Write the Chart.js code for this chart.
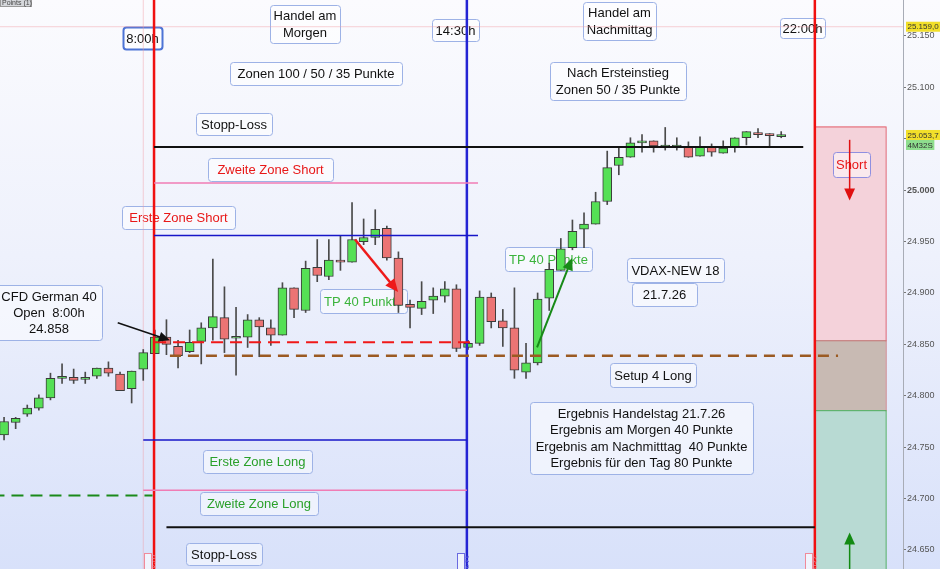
<!DOCTYPE html>
<html>
<head>
<meta charset="utf-8">
<script src="https://cdn.jsdelivr.net/npm/chart.js@4.4.1/dist/chart.umd.min.js"></script>
<style>
  html, body { margin: 0; padding: 0; background: #fff; }
  #wrap { width: 940px; height: 569px; }
</style>
</head>
<body>
<div id="wrap"><canvas id="chart" width="940" height="569"></canvas></div>
<script>
// candles, one per 15 min, index 0 = first candle on screen
const opens = [24762,24774,24782,24788,24798,24817,24818,24816,24819,24827,
  24821,24807,24826,24841,24857,24848,24843,24853,24866,24876,
  24856,24857,24874,24866,24859,24905,24883,24925,24916,24931,
  24930,24950,24954,24963,24934,24889,24885,24893,24897,24904,
  24847,24851,24896,24873,24866,24823,24832,24895,24922,24944,
  24962,24967,24989,25024,25032,25046,25048,25042,25042,25042,
  25033,25042,25036,25042,25051,25056,25055,25052];
const highs = [24779,24779,24791,24801,24822,24831,24826,24823,24827,24833,
  24823,24824,24845,24864,24874,24854,24864,24871,24933,24906,
  24886,24879,24876,24874,24910,24905,24931,24952,24952,24956,
  24988,24972,24981,24965,24940,24893,24911,24905,24911,24908,
  24854,24902,24900,24884,24905,24851,24900,24929,24953,24971,
  24978,24998,25038,25041,25051,25054,25048,25061,25051,25047,
  25052,25045,25048,25051,25057,25060,25055,25057];
const lows = [24757,24768,24780,24786,24796,24812,24812,24812,24817,24819,
  24805,24793,24815,24841,24840,24827,24842,24831,24854,24842,
  24820,24847,24838,24849,24859,24876,24881,24911,24913,24922,
  24930,24947,24947,24932,24881,24866,24879,24880,24891,24843,
  24845,24849,24866,24848,24817,24817,24830,24883,24922,24942,
  24944,24967,24986,25015,25032,25037,25037,25039,25039,25032,
  25033,25033,25036,25037,25044,25051,25043,25051];
const closes = [24775,24778,24788,24798,24817,24819,24815,24817,24827,24822,
  24805,24824,24842,24857,24850,24839,24852,24866,24877,24855,
  24857,24874,24867,24859,24905,24884,24924,24917,24932,24930,
  24952,24954,24962,24934,24888,24886,24892,24897,24904,24846,
  24851,24896,24872,24866,24825,24832,24894,24923,24943,24960,
  24967,24989,25022,25032,25046,25047,25043,25043,25043,25032,
  25042,25037,25041,25051,25057,25054,25053,25054];

// horizontal levels: stop short, 2nd short, 1st short, open, setup, 1st long, 2nd long, old level, stop long, day high
const levelPrices = [25042, 25007, 24956, 24852, 24839, 24757, 24708, 24703, 24672, 25159];
const levelFrom   = [12.93, 12.93, 12.93, 12.93, 14.3, 12.0, 12.0, -1, 14.0, -1];
const levelTo     = [68.9, 40.86, 40.86, 40.6, 71.9, 39.9, 39.9, 12.8, 69.9, 79];

// vertical session marks (candle index): 7:45, 8:00, 14:30, 22:00
const sessionMarks = [12.0, 12.93, 39.9, 69.9];

// right side target boxes [fromIdx, toIdx, top, bottom]
const shortBox = [69.9, 76.0, 25062, 24854];
const setupBox = [69.9, 76.0, 24854, 24786];
const longBox = [69.9, 76.0, 24786, 24600];

// arrows [fromIdx, fromPrice, toIdx, toPrice]
const arrowOpen = [9.8, 24871, 14.3, 24854];
const arrowShort = [30.26, 24952, 33.97, 24901];
const arrowLong = [45.95, 24847, 48.97, 24934];
const arrowBoxShort = [72.9, 25049, 72.9, 24990];
const arrowBoxLong = [72.9, 24620, 72.9, 24667];

const yTicks = [24650, 24700, 24750, 24800, 24850, 24900, 24950, 25000, 25050, 25100, 25150];
const lastPrice = 25053.7;

const FONT = '"Liberation Sans", Arial, sans-serif';
Chart.defaults.font.family = FONT;

const levelStyles = [
  { color: '#111', width: 2, dash: [] },
  { color: '#f07cb4', width: 1.5, dash: [] },
  { color: '#1616c8', width: 1.5, dash: [] },
  { color: '#f01818', width: 2, dash: [12, 7] },
  { color: '#9b5a22', width: 2.5, dash: [11, 7] },
  { color: '#1616c8', width: 1.5, dash: [] },
  { color: '#f07cb4', width: 1.5, dash: [] },
  { color: '#1a8a1a', width: 2, dash: [12, 7] },
  { color: '#111', width: 2, dash: [] },
  { color: 'rgba(240,150,160,0.45)', width: 1, dash: [] }
];
const markStyles = [
  { color: 'rgba(240,150,160,0.45)', width: 1 },
  { color: '#f01010', width: 2.5 },
  { color: '#2424d4', width: 2.5 },
  { color: '#f01010', width: 2.5 }
];

const datasets = [];
levelPrices.forEach((p, i) => {
  datasets.push({
    type: 'line',
    data: [{ x: levelFrom[i], y: p }, { x: levelTo[i], y: p }],
    borderColor: levelStyles[i].color,
    borderWidth: levelStyles[i].width,
    borderDash: levelStyles[i].dash,
    pointRadius: 0,
    order: i === 9 ? 5 : 0
  });
});
sessionMarks.forEach((m, i) => {
  datasets.push({
    type: 'line',
    data: [{ x: m, y: 24500 }, { x: m, y: 25300 }],
    borderColor: markStyles[i].color,
    borderWidth: markStyles[i].width,
    pointRadius: 0,
    order: i === 0 ? 5 : 0
  });
});
datasets.push({
  type: 'bar',
  data: opens.map((o, i) => ({ x: i, y: [lows[i], highs[i]] })),
  backgroundColor: '#4a4a4a',
  borderWidth: 0,
  barThickness: 1,
  grouped: false,
  order: 3
});
datasets.push({
  type: 'bar',
  data: opens.map((o, i) => ({ x: i, y: [o, closes[i]] })),
  backgroundColor: opens.map((o, i) => closes[i] >= o ? '#55e055' : '#ec7474'),
  borderColor: '#3a3a3a',
  borderWidth: 1,
  borderSkipped: false,
  barThickness: 9,
  minBarLength: 2,
  grouped: false,
  order: 2
});

function rrect(ctx, x1, y1, x2, y2, r) {
  ctx.beginPath();
  ctx.moveTo(x1 + r, y1);
  ctx.lineTo(x2 - r, y1); ctx.quadraticCurveTo(x2, y1, x2, y1 + r);
  ctx.lineTo(x2, y2 - r); ctx.quadraticCurveTo(x2, y2, x2 - r, y2);
  ctx.lineTo(x1 + r, y2); ctx.quadraticCurveTo(x1, y2, x1, y2 - r);
  ctx.lineTo(x1, y1 + r); ctx.quadraticCurveTo(x1, y1, x1 + r, y1);
  ctx.closePath();
}

function box(ctx, x1, y1, x2, y2, lines, color, border, bw) {
  ctx.save();
  rrect(ctx, x1 + 0.5, y1 + 0.5, x2 + 0.5, y2 + 0.5, 3);
  ctx.fillStyle = 'rgba(255,255,255,0.5)';
  ctx.fill();
  ctx.strokeStyle = border || '#9db2e6';
  ctx.lineWidth = bw || 1;
  ctx.stroke();
  ctx.fillStyle = color || '#111';
  ctx.font = '13px ' + FONT;
  ctx.textAlign = 'center';
  ctx.textBaseline = 'middle';
  const cx = (x1 + x2) / 2;
  const cy = (y1 + y2) / 2;
  const lh = 16.3;
  lines.forEach((t, k) => {
    ctx.fillText(t, cx, cy + (k - (lines.length - 1) / 2) * lh + 1);
  });
  ctx.restore();
}

function arrow(ctx, x1, y1, x2, y2, color, w, head) {
  const a = Math.atan2(y2 - y1, x2 - x1);
  ctx.save();
  ctx.strokeStyle = color; ctx.fillStyle = color; ctx.lineWidth = w;
  ctx.beginPath();
  ctx.moveTo(x1, y1);
  ctx.lineTo(x2 - Math.cos(a) * head * 0.6, y2 - Math.sin(a) * head * 0.6);
  ctx.stroke();
  ctx.beginPath();
  ctx.moveTo(x2, y2);
  ctx.lineTo(x2 - head * Math.cos(a) + head * 0.45 * Math.sin(a), y2 - head * Math.sin(a) - head * 0.45 * Math.cos(a));
  ctx.lineTo(x2 - head * Math.cos(a) - head * 0.45 * Math.sin(a), y2 - head * Math.sin(a) + head * 0.45 * Math.cos(a));
  ctx.closePath();
  ctx.fill();
  ctx.restore();
}

const deco = {
  id: 'deco',
  beforeDraw(chart) {
    const ctx = chart.ctx;
    const g = ctx.createLinearGradient(0, 0, 0, chart.height);
    g.addColorStop(0, '#fbfbfe');
    g.addColorStop(0.45, '#eef1fc');
    g.addColorStop(1, '#d8e1fa');
    ctx.save();
    ctx.fillStyle = g;
    ctx.fillRect(0, 0, chart.width, chart.height);
    ctx.restore();
  },
  beforeDatasetsDraw(chart) {
    const ctx = chart.ctx;
    const xs = chart.scales.x, ys = chart.scales.y;
    const area = chart.chartArea;
    ctx.save();
    ctx.beginPath();
    ctx.rect(area.left, area.top, area.right - area.left, area.bottom - area.top);
    ctx.clip();
    [[shortBox, '#f4d2da', '#e2606e'], [setupBox, '#c8bab3', '#c87a7a'], [longBox, '#b8dad3', '#4cae5c']].forEach(([b, fill, line]) => {
      const x1 = xs.getPixelForValue(b[0]), x2 = xs.getPixelForValue(b[1]);
      const y1 = ys.getPixelForValue(b[2]), y2 = ys.getPixelForValue(b[3]);
      ctx.fillStyle = fill;
      ctx.fillRect(x1, y1, x2 - x1, y2 - y1);
      ctx.strokeStyle = line;
      ctx.lineWidth = 1;
      ctx.strokeRect(x1 + 0.5, y1 + 0.5, x2 - x1, y2 - y1);
    });
    ctx.restore();

    box(ctx, 270, 5, 340, 43, ['Handel am', 'Morgen']);
    box(ctx, 432, 19, 479, 41, ['14:30h']);
    box(ctx, 583, 2, 656, 40, ['Handel am', 'Nachmittag']);
    box(ctx, 780, 18, 825, 38, ['22:00h']);
    box(ctx, 230, 62, 402, 85, ['Zonen 100 / 50 / 35 Punkte']);
    box(ctx, 550, 62, 686, 100, ['Nach Ersteinstieg', 'Zonen 50 / 35 Punkte']);
    box(ctx, 196, 113, 272, 135, ['Stopp-Loss']);
    box(ctx, 208, 158, 333, 181, ['Zweite Zone Short'], '#e81818');
    box(ctx, 122, 206, 235, 229, ['Erste Zone Short'], '#e81818');
    box(ctx, -4, 285, 102, 340, ['CFD German 40', 'Open  8:00h', '24.858']);
    box(ctx, 320, 289, 407, 313, ['TP 40 Punkte'], '#3cb43c');
    box(ctx, 505, 247, 592, 271, ['TP 40 Punkte'], '#3cb43c');
    box(ctx, 627, 258, 724, 282, ['VDAX-NEW 18']);
    box(ctx, 632, 283, 697, 306, ['21.7.26']);
    box(ctx, 610, 363, 696, 387, ['Setup 4 Long']);
    box(ctx, 530, 402, 753, 474, ['Ergebnis Handelstag 21.7.26', 'Ergebnis am Morgen 40 Punkte',
      'Ergebnis am Nachmitttag  40 Punkte', 'Ergebnis für den Tag 80 Punkte']);
    box(ctx, 203, 450, 312, 473, ['Erste Zone Long'], '#2aa02a');
    box(ctx, 200, 492, 318, 515, ['Zweite Zone Long'], '#2aa02a');
    box(ctx, 186, 543, 262, 565, ['Stopp-Loss']);
    box(ctx, 833, 152, 870, 177, ['Short'], '#e81818', '#8f8fe0');
    box(ctx, 123, 27, 162, 49, ['8:00h'], '#111', '#4d74d6', 2);
  },
  afterDatasetsDraw(chart) {
    const ctx = chart.ctx;
    const xs = chart.scales.x, ys = chart.scales.y;
    const P = (a) => [xs.getPixelForValue(a[0]), ys.getPixelForValue(a[1]), xs.getPixelForValue(a[2]), ys.getPixelForValue(a[3])];
    arrow(ctx, ...P(arrowOpen), '#111', 1.5, 11);
    arrow(ctx, ...P(arrowShort), '#ee1a1a', 2.5, 13);
    arrow(ctx, ...P(arrowLong), '#178a17', 2, 12);
    arrow(ctx, ...P(arrowBoxShort), '#e01010', 1.5, 12);
    arrow(ctx, ...P(arrowBoxLong), '#128a12', 1.5, 12);

    // small rotated time tags at the bottom
    [[148, '07:45', '#f08a9a'], [461, '14:30', '#6a6ae0'], [809, '22:00', '#f08a9a']].forEach(([x, t, c]) => {
      ctx.save();
      ctx.fillStyle = 'rgba(255,255,255,0.6)';
      ctx.fillRect(x - 4, 553, 8, 16);
      ctx.strokeStyle = c; ctx.lineWidth = 1;
      ctx.strokeRect(x - 3.5, 553.5, 7, 16);
      ctx.translate(x + 3, 555);
      ctx.rotate(Math.PI / 2);
      ctx.fillStyle = c;
      ctx.font = '7px ' + FONT;
      ctx.textBaseline = 'alphabetic';
      ctx.fillText(t, 0, 0);
      ctx.restore();
    });

    // "Points" tag top left
    ctx.save();
    ctx.fillStyle = '#d6d8dc';
    ctx.fillRect(0, 0, 32, 7);
    ctx.strokeStyle = '#9a9a9a';
    ctx.strokeRect(0.5, -0.5, 31, 7);
    ctx.fillStyle = '#444';
    ctx.font = '7px ' + FONT;
    ctx.textBaseline = 'alphabetic';
    ctx.fillText('Points (1)', 2, 5);
    ctx.restore();
  },
  afterDraw(chart) {
    const ctx = chart.ctx;
    const ys = chart.scales.y;
    const x0 = chart.chartArea.right + 3;
    const tag = (y, txt, bg) => {
      ctx.save();
      ctx.font = '8px ' + FONT;
      const w = ctx.measureText(txt).width + 3;
      ctx.fillStyle = bg;
      ctx.fillRect(x0, y - 5, w, 10);
      ctx.fillStyle = '#333';
      ctx.textBaseline = 'middle';
      ctx.fillText(txt, x0 + 1.5, y + 0.5);
      ctx.restore();
    };
    const fmt = (v) => v.toLocaleString('de-DE', { minimumFractionDigits: 1, maximumFractionDigits: 1 });
    tag(ys.getPixelForValue(levelPrices[9]), fmt(levelPrices[9]), '#f2df2a');
    tag(ys.getPixelForValue(lastPrice), fmt(lastPrice), '#f2df2a');
    tag(ys.getPixelForValue(lastPrice) + 10, '4M32S', '#8ede8e');
  }
};

new Chart(document.getElementById('chart'), {
  type: 'bar',
  data: { datasets: datasets },
  options: {
    responsive: false,
    animation: false,
    devicePixelRatio: 1,
    layout: { padding: 0, autoPadding: false },
    plugins: { legend: { display: false }, tooltip: { enabled: false } },
    scales: {
      x: {
        type: 'linear',
        min: -0.35,
        max: 77.5,
        offset: false,
        display: false,
        grid: { display: false }
      },
      y: {
        type: 'linear',
        position: 'right',
        min: 24631.5,
        max: 25185,
        afterBuildTicks: (axis) => { axis.ticks = yTicks.map(v => ({ value: v })); },
        afterFit: (axis) => {
          axis.width = 37;
          axis.paddingTop = 0;
          axis.paddingBottom = 0;
        },
        border: { display: true, color: '#a8acb6', width: 1 },
        grid: { drawOnChartArea: false, tickLength: 3, color: '#777' },
        ticks: {
          padding: 1,
          color: '#555',
          font: (c) => ({ size: 9, weight: c.tick && c.tick.value === 25000 ? 'bold' : 'normal' }),
          callback: (v) => Number(v).toLocaleString('de-DE')
        }
      }
    }
  },
  plugins: [deco]
});
</script>
</body>
</html>
